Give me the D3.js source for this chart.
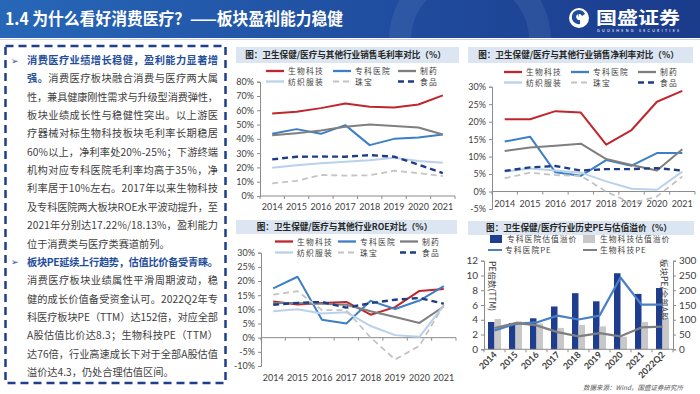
<!DOCTYPE html>
<html>
<head>
<meta charset="utf-8">
<script src="https://cdn.jsdelivr.net/npm/d3@7"></script>
<style>
  body { margin: 0; background: #fff; }
  svg { display: block; }
  text { font-family: "Noto Sans CJK SC", "Noto Sans", sans-serif; }
  .num { font-family: Lato, "Liberation Sans", sans-serif; }
</style>
</head>
<body>
<svg id="slide" width="700" height="394"></svg>
<script>
// ---- data ----
const years = ['2014', '2015', '2016', '2017', '2018', '2019', '2020', '2021'];
const seriesNames = ['生物科技', '专科医院', '制药', '纺织服装', '珠宝', '食品'];

// 销售毛利率 (%)
const grossBio     = [57.8, 59, 61.5, 64.7, 62.5, 62, 64, 70.4];
const grossHosp    = [43.5, 46.8, 43.5, 49.6, 35.6, 40, 41, 43];
const grossPharma  = [42.5, 44, 45.8, 48.5, 50, 49, 48, 43];
const grossTextile = [19.7, 21.5, 23, 24, 25, 26.8, 24.5, 23.2];
const grossJewelry = [8.9, 10.6, 14.7, 14.3, 14.5, 17.7, 16, 14];
const grossFood    = [25.6, 27.5, 27.6, 27.5, 28.6, 27.5, 22, 16];

// 销售净利率 (%)
const netBio     = [20.7, 20.7, 23, 22.6, 13.4, 17.6, 25.7, 28.8];
const netHosp    = [14.3, 15.7, 5.5, 4.5, 9, 7.4, 11, 11];
const netPharma  = [11.6, 12.6, 13.1, 13.7, 9.3, 7.6, 6, 12.1];
const netTextile = [5.7, 6.6, 6, 5.4, 2.9, 0.8, 0.5, 5.7];
const netJewelry = [3.8, 5.4, 4.7, 4.5, 0, -3.4, -1.4, 4.3];
const netFood    = [5.9, 6.9, 7.3, 6, 6.4, 6.4, 6.7, 6];

// ROE (%)
const roeBio     = [12.8, 11.7, 12.2, 12.6, 8.1, 10.8, 16.5, 17.2];
const roeHosp    = [17.4, 21.5, 6.3, 5, 13, 10.1, 13.1, 18.2];
const roePharma  = [12.2, 12.2, 12, 11.6, 9.3, 7.3, 5.2, 11];
const roeTextile = [9.3, 10, 8.5, 9, 4.1, 0.9, 0.3, 11.4];
const roeJewelry = [15.2, 16.4, 9.7, 9.7, 0, -7.7, -2.9, 11.6];
const roeFood    = [11.6, 12.3, 12.6, 10.6, 12.2, 13.4, 14, 12];

// PE 与估值溢价
const peCats      = ['2014', '2015', '2016', '2017', '2018', '2019', '2020', '2021', '2022Q2'];
const premiumHosp = [3.7, 3.55, 4.2, 5.8, 7.6, 6.5, 10.3, 7.5, 8.3];
const premiumBio  = [4.1, 3.8, 3.5, 2.9, 3.3, 3.1, 1.7, 3.7, 4.2];
const peHosp      = [64, 86, 91, 114, 101, 114, 243, 151, 151];
const peBio       = [72, 89, 81, 58, 44, 55, 44, 74, 77];
const peLegend    = ['专科医院估值溢价', '生物科技估值溢价', '专科医院PE', '生物科技PE'];

const seriesStyle = [
  { color: '#c0262d', width: 2,   dash: null },
  { color: '#3d7fc4', width: 2,   dash: null },
  { color: '#7f7f7f', width: 2,   dash: null },
  { color: '#b9d1ea', width: 2,   dash: null },
  { color: '#c4c4c4', width: 1.8, dash: '6,4' },
  { color: '#1f3d87', width: 2.4, dash: '6,4' }
];

const svg = d3.select('#slide');

// ---- header ----
const defs = svg.append('defs');
const grad = defs.append('linearGradient').attr('id', 'hdr').attr('x1', 0).attr('x2', 1);
grad.append('stop').attr('offset', 0).attr('stop-color', '#2767b8');
grad.append('stop').attr('offset', 0.55).attr('stop-color', '#204d9f');
grad.append('stop').attr('offset', 1).attr('stop-color', '#1b3b8b');

svg.append('rect').attr('x', 0).attr('y', 0).attr('width', 700).attr('height', 38).attr('fill', 'url(#hdr)');
svg.append('circle').attr('cx', 470).attr('cy', 40).attr('r', 70)
  .attr('fill', 'none').attr('stroke', '#fff').attr('stroke-opacity', 0.07).attr('stroke-width', 22);
svg.append('line').attr('x1', 0).attr('x2', 700).attr('y1', 39.5).attr('y2', 39.5)
  .attr('stroke', '#c9d2e2').attr('stroke-width', 1);

svg.append('text').attr('x', 5).attr('y', 25)
  .attr('fill', '#fff').attr('font-size', 16.5).attr('font-weight', 700)
  .attr('textLength', 338).attr('lengthAdjust', 'spacingAndGlyphs')
  .text('1.4 为什么看好消费医疗？——板块盈利能力稳健');

// logo
const logo = svg.append('g').attr('transform', 'translate(579,18)');
logo.append('circle').attr('r', 10).attr('fill', '#fff');
logo.append('path').attr('d', 'M6,-4 A7,7 0 1 0 1,6 L1,2 A3,3 0 1 1 3,-2 Z')
  .attr('fill', '#1f4c9c');
logo.append('path').attr('d', 'M-6,4 A7,7 0 0 0 -1,-6 L-1,-2 A3,3 0 0 1 -3,2 Z')
  .attr('fill', '#1f4c9c');
svg.append('text').attr('x', 596).attr('y', 24)
  .attr('fill', '#fff').attr('font-size', 17).attr('font-weight', 700)
  .attr('textLength', 84).attr('lengthAdjust', 'spacingAndGlyphs')
  .text('国盛证券');
svg.append('text').attr('x', 597).attr('y', 31.5)
  .attr('fill', '#fff').attr('font-size', 3.6).attr('class', 'num')
  .attr('textLength', 82).text('GUOSHENG SECURITIES');

// ---- left text panel ----
svg.append('rect').attr('x', 5.5).attr('y', 46).attr('width', 220).attr('height', 337)
  .attr('fill', 'none').attr('stroke', '#1f3f8c').attr('stroke-width', 2.5)
  .attr('stroke-dasharray', '8,5');

const panelLines = [
  { arrow: true, full: true, segs: [['消费医疗业绩增长稳健，盈利能力显著增', 1]] },
  { full: true, segs: [['强。', 1], ['消费医疗板块融合消费与医疗两大属', 0]] },
  { full: true, segs: [['性，兼具健康刚性需求与升级型消费弹性，', 0]] },
  { full: true, segs: [['板块业绩成长性与稳健性突出。以上游医', 0]] },
  { full: true, segs: [['疗器械对标生物科技板块毛利率长期稳居', 0]] },
  { full: true, segs: [['60%以上，净利率处20%-25%；下游终端', 0]] },
  { full: true, segs: [['机构对应专科医院毛利率均高于35%，净', 0]] },
  { full: true, segs: [['利率居于10%左右。2017年以来生物科技', 0]] },
  { full: true, segs: [['及专科医院两大板块ROE水平波动提升，至', 0]] },
  { full: true, segs: [['2021年分别达17.22%/18.13%，盈利能力', 0]] },
  { full: false, segs: [['位于消费类与医疗类赛道前列。', 0]] },
  { arrow: true, full: true, segs: [['板块PE延续上行趋势，估值比价备受青睐。', 1]] },
  { full: true, segs: [['消费医疗板块业绩属性平滑周期波动，稳', 0]] },
  { full: true, segs: [['健的成长价值备受资金认可。2022Q2年专', 0]] },
  { full: true, segs: [['科医疗板块PE（TTM）达152倍，对应全部', 0]] },
  { full: true, segs: [['A股估值比价达8.3；生物科技PE（TTM）', 0]] },
  { full: true, segs: [['达76倍，行业高速成长下对于全部A股估值', 0]] },
  { full: false, segs: [['溢价达4.3，仍处合理估值区间。', 0]] }
];

panelLines.forEach((ln, i) => {
  const yy = 64 + i * 18.35;
  if (ln.arrow) {
    svg.append('text').attr('x', 11).attr('y', yy - 0.5)
      .attr('font-family', 'DejaVu Sans').attr('font-size', 8.5).attr('fill', '#1f4e9c')
      .text('➢');
  }
  const t = svg.append('text').attr('x', 27).attr('y', yy).attr('font-size', 10.2);
  if (ln.full) t.attr('textLength', 191).attr('lengthAdjust', 'spacing');
  ln.segs.forEach(s => {
    t.append('tspan')
      .attr('fill', s[1] ? '#1f4e9c' : '#404040')
      .attr('font-weight', s[1] ? 700 : 400)
      .text(s[0]);
  });
});

// ---- shared helpers ----
function titleBar(box, label) {
  svg.append('rect').attr('x', box[0]).attr('y', box[1]).attr('width', box[2]).attr('height', box[3])
    .attr('fill', '#dbe6f2');
  svg.append('text').attr('x', box[0] + box[2] / 2 - 2).attr('y', box[1] + box[3] / 2 + 3.2)
    .attr('text-anchor', 'middle').attr('font-size', 8.6).attr('font-weight', 700).attr('fill', '#262626')
    .text(label);
}

function styleAxis(g) {
  g.selectAll('path.domain').attr('stroke', '#8c8c8c');
  g.selectAll('.tick line').attr('stroke', '#8c8c8c');
  g.selectAll('.tick text').attr('class', 'num').attr('font-size', 9).attr('fill', '#404040');
}

function lineChart(cfg) {
  titleBar(cfg.titleBox, cfg.title);

  // legend
  seriesNames.forEach((name, i) => {
    const lx = cfg.legendX[i % 3], ly = cfg.legendY[Math.floor(i / 3)];
    const st = seriesStyle[i];
    svg.append('line').attr('x1', lx).attr('x2', lx + 18).attr('y1', ly).attr('y2', ly)
      .attr('stroke', st.color).attr('stroke-width', st.width + 0.3)
      .attr('stroke-dasharray', st.dash);
    svg.append('text').attr('x', lx + 22).attr('y', ly + 3).attr('font-size', 7.8).attr('fill', '#404040')
      .attr('letter-spacing', 1.2).text(name);
  });

  const x = d3.scaleBand().domain(years).range(cfg.xRange);
  const y = d3.scaleLinear().domain(cfg.yDomain).range(cfg.yRange);
  const cx = d => x(d) + x.bandwidth() / 2;

  const ya = svg.append('g').attr('transform', `translate(${cfg.xRange[0]},0)`)
    .call(d3.axisLeft(y).tickValues(cfg.yTicks).tickFormat(d => d + '%').tickSizeOuter(0).tickSize(3).tickPadding(3));
  styleAxis(ya);

  // category axis along zero line, ticks between categories
  const y0 = y(0);
  svg.append('line').attr('x1', cfg.xRange[0]).attr('x2', cfg.xRange[1]).attr('y1', y0).attr('y2', y0)
    .attr('stroke', '#8c8c8c');
  svg.append('g').selectAll('line').data(years.concat(['end'])).join('line')
    .attr('x1', (d, i) => cfg.xRange[0] + i * x.step()).attr('x2', (d, i) => cfg.xRange[0] + i * x.step())
    .attr('y1', y0).attr('y2', y0 + 3).attr('stroke', '#8c8c8c');
  svg.append('g').selectAll('text').data(years).join('text')
    .attr('class', 'num').attr('x', cx).attr('y', cfg.labelY)
    .attr('text-anchor', 'middle').attr('font-size', 9).attr('fill', '#404040')
    .text(d => d);

  const line = d3.line().x((d, i) => cx(years[i])).y(d => y(d));
  cfg.series.forEach((vals, i) => {
    const st = seriesStyle[i];
    svg.append('path').datum(vals).attr('d', line)
      .attr('fill', 'none').attr('stroke', st.color).attr('stroke-width', st.width)
      .attr('stroke-dasharray', st.dash).attr('stroke-linejoin', 'round');
  });
}

// ---- chart 1: 毛利率 ----
lineChart({
  title: '图：卫生保健/医疗与其他行业销售毛利率对比（%）',
  titleBox: [236, 47, 223, 16],
  legendX: [266, 333, 398], legendY: [71, 81.5],
  xRange: [260, 455], yDomain: [0, 80], yRange: [196, 81.7],
  yTicks: d3.range(0, 81, 10), labelY: 210,
  series: [grossBio, grossHosp, grossPharma, grossTextile, grossJewelry, grossFood]
});

// ---- chart 2: 净利率 ----
lineChart({
  title: '图：卫生保健/医疗与其他行业销售净利率对比（%）',
  titleBox: [468, 47, 225, 16],
  legendX: [504, 571, 638], legendY: [72, 82.5],
  xRange: [492, 695], yDomain: [-5, 30], yRange: [209, 86.7],
  yTicks: d3.range(-5, 31, 5), labelY: 206.5,
  series: [netBio, netHosp, netPharma, netTextile, netJewelry, netFood]
});

// ---- chart 3: ROE ----
lineChart({
  title: '图：卫生保健/医疗与其他行业ROE对比（%）',
  titleBox: [236, 220, 221, 14],
  legendX: [275, 338, 400], legendY: [241.5, 252.5],
  xRange: [261, 456], yDomain: [-10, 30], yRange: [366, 252.7],
  yTicks: d3.range(-10, 31, 5), labelY: 381,
  series: [roeBio, roeHosp, roePharma, roeTextile, roeJewelry, roeFood]
});

// ---- chart 4: PE 与估值溢价 ----
(function () {
  titleBar([468, 221, 226, 14], '图：卫生保健/医疗行业历史PE与估值溢价（%）');

  const x = d3.scaleBand().domain(peCats).range([484, 673]);
  const sub = d3.scaleBand().domain(['hosp', 'bio']).range([x.bandwidth() / 2 - 6.5, x.bandwidth() / 2 + 6.5]);
  const yL = d3.scaleLinear().domain([0, 12]).range([349.3, 260.7]);
  const yR = d3.scaleLinear().domain([0, 300]).range([349.3, 260.7]);
  const cx = d => x(d) + x.bandwidth() / 2;

  // legend
  const legendItems = [
    { name: peLegend[0], type: 'bar', color: '#1f3d8f', lx: 490, ly: 239 },
    { name: peLegend[1], type: 'bar', color: '#c8c8c8', lx: 583, ly: 239 },
    { name: peLegend[2], type: 'line', color: '#4a80c4', lx: 488, ly: 250 },
    { name: peLegend[3], type: 'line', color: '#7f7f7f', lx: 583, ly: 250 }
  ];
  legendItems.forEach(it => {
    if (it.type === 'bar') {
      svg.append('rect').attr('x', it.lx).attr('y', it.ly - 4).attr('width', 12).attr('height', 8).attr('fill', it.color);
    } else {
      svg.append('line').attr('x1', it.lx).attr('x2', it.lx + 14).attr('y1', it.ly).attr('y2', it.ly)
        .attr('stroke', it.color).attr('stroke-width', 2);
    }
    svg.append('text').attr('x', it.lx + 17).attr('y', it.ly + 3).attr('font-size', 7.8).attr('fill', '#404040')
      .attr('letter-spacing', 1).text(it.name);
  });

  // bars
  const bars = svg.append('g');
  bars.selectAll('rect.h').data(premiumHosp).join('rect').attr('class', 'h')
    .attr('x', (d, i) => x(peCats[i]) + sub('hosp')).attr('width', sub.bandwidth())
    .attr('y', d => yL(d)).attr('height', d => yL(0) - yL(d)).attr('fill', '#1f3d8f');
  bars.selectAll('rect.b').data(premiumBio).join('rect').attr('class', 'b')
    .attr('x', (d, i) => x(peCats[i]) + sub('bio')).attr('width', sub.bandwidth())
    .attr('y', d => yL(d)).attr('height', d => yL(0) - yL(d)).attr('fill', '#c8c8c8');

  // axes
  const la = svg.append('g').attr('transform', 'translate(484,0)')
    .call(d3.axisLeft(yL).tickValues(d3.range(0, 13, 2)).tickSizeOuter(0).tickSize(3).tickPadding(3));
  styleAxis(la);
  la.selectAll('.tick text').attr('font-size', 10);
  const ra = svg.append('g').attr('transform', 'translate(673,0)')
    .call(d3.axisRight(yR).tickValues(d3.range(0, 301, 50)).tickSizeOuter(0).tickSize(3).tickPadding(3));
  styleAxis(ra);
  ra.selectAll('.tick text').attr('font-size', 10);

  svg.append('line').attr('x1', 484).attr('x2', 673).attr('y1', yL(0)).attr('y2', yL(0)).attr('stroke', '#8c8c8c');
  svg.append('g').selectAll('line').data(peCats.concat(['end'])).join('line')
    .attr('x1', (d, i) => 484 + i * x.step()).attr('x2', (d, i) => 484 + i * x.step())
    .attr('y1', yL(0)).attr('y2', yL(0) + 3).attr('stroke', '#8c8c8c');
  svg.append('g').selectAll('text').data(peCats).join('text')
    .attr('class', 'num').attr('font-size', 9).attr('font-weight', 700).attr('fill', '#404040')
    .attr('text-anchor', 'end')
    .attr('transform', d => `translate(${cx(d) + 3},${yL(0) + 6}) rotate(-45)`)
    .text(d => d);

  // axis titles
  svg.append('text').attr('transform', 'translate(489,261) rotate(90)')
    .attr('font-size', 8.5).attr('fill', '#404040').text('PE倍数(TTM)');
  svg.append('text').attr('transform', 'translate(661,259) rotate(90)')
    .attr('font-size', 8.5).attr('fill', '#404040').text('板块PE/全部A股');

  // lines
  const lineR = d3.line().x((d, i) => cx(peCats[i])).y(d => yR(d));
  svg.append('path').datum(peHosp).attr('d', lineR).attr('fill', 'none')
    .attr('stroke', '#4a80c4').attr('stroke-width', 2.2).attr('stroke-linejoin', 'round');
  svg.append('path').datum(peBio).attr('d', lineR).attr('fill', 'none')
    .attr('stroke', '#7f7f7f').attr('stroke-width', 2.2).attr('stroke-linejoin', 'round');

  svg.append('text').attr('x', 583).attr('y', 390).attr('font-size', 6.5).attr('font-style', 'italic')
    .attr('fill', '#595959').text('数据来源：Wind，国盛证券研究所');
})();
</script>
</body>
</html>
